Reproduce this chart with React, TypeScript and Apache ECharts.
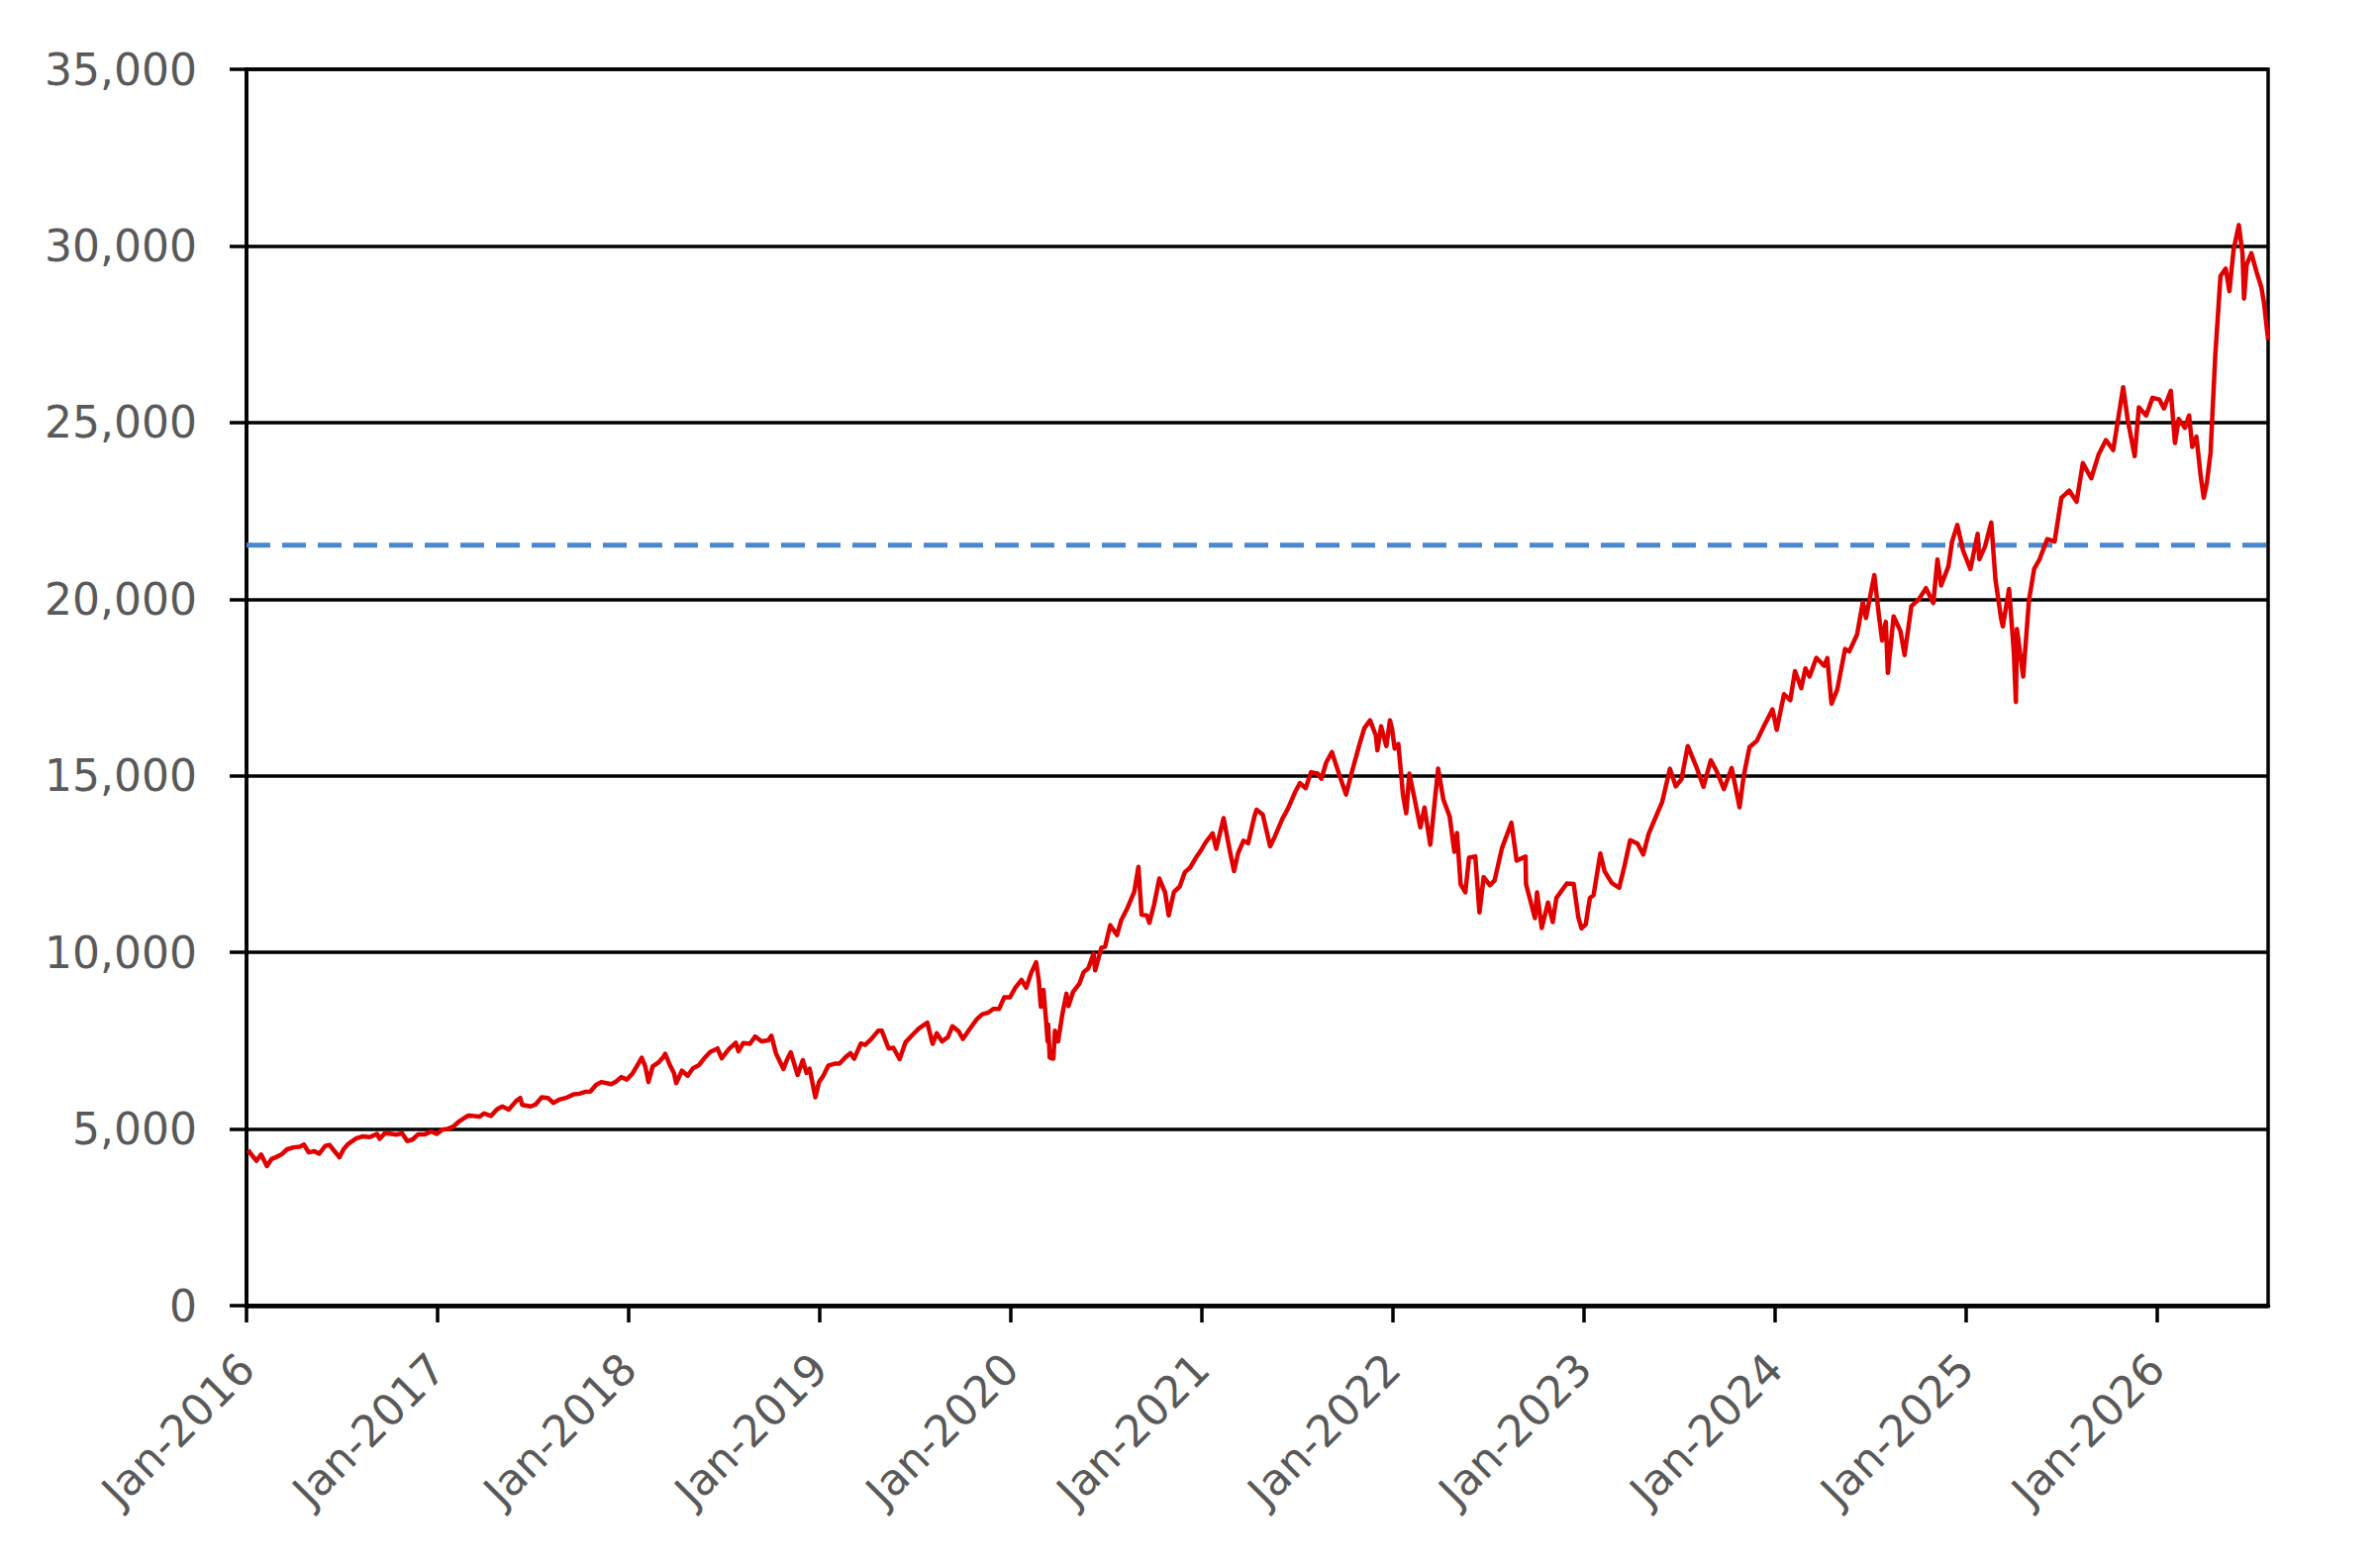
import React, { useEffect, useRef } from "react";
import * as echarts from "echarts";

// ---- Data (index level) ----
const d2016: [string, number][] = [
  ["01-04", 4400], ["01-12", 4250], ["01-20", 4100], ["01-29", 4280], ["02-09", 3950], ["02-18", 4150],
  ["02-26", 4200], ["03-08", 4280], ["03-18", 4420], ["03-31", 4480], ["04-12", 4500], ["04-20", 4560],
  ["04-29", 4340], ["05-10", 4370], ["05-19", 4300], ["05-31", 4520], ["06-08", 4550], ["06-15", 4420],
  ["06-27", 4200], ["07-05", 4430], ["07-14", 4580], ["07-29", 4730], ["08-10", 4790], ["08-24", 4770],
  ["09-07", 4860], ["09-12", 4720], ["09-22", 4880], ["10-05", 4860], ["10-14", 4840], ["10-25", 4880],
  ["11-04", 4660], ["11-14", 4700], ["11-25", 4850], ["12-08", 4850], ["12-20", 4930], ["12-30", 4860],
];
const d2017: [string, number][] = [
  ["01-10", 4980], ["01-20", 5000], ["01-31", 5070], ["02-10", 5200], ["02-21", 5310], ["03-01", 5380],
  ["03-10", 5370], ["03-22", 5350], ["03-31", 5440], ["04-13", 5370], ["04-25", 5560], ["05-05", 5640],
  ["05-17", 5550], ["05-31", 5790], ["06-08", 5880], ["06-12", 5680], ["06-28", 5640], ["07-07", 5690],
  ["07-19", 5900], ["07-31", 5880], ["08-10", 5740], ["08-23", 5840], ["09-05", 5890], ["09-18", 5980],
  ["09-29", 6000], ["10-10", 6050], ["10-20", 6060], ["10-31", 6250], ["11-10", 6330], ["11-29", 6270],
  ["12-08", 6340], ["12-18", 6470], ["12-29", 6400],
];
const d2018: [string, number][] = [
  ["01-09", 6580], ["01-19", 6830], ["01-26", 7020], ["02-02", 6770], ["02-08", 6330], ["02-16", 6770],
  ["02-27", 6880], ["03-09", 7050], ["03-12", 7130], ["03-22", 6780], ["03-29", 6580], ["04-02", 6300],
  ["04-13", 6650], ["04-24", 6510], ["05-04", 6720], ["05-15", 6800], ["05-25", 6990], ["06-06", 7180],
  ["06-20", 7280], ["06-28", 7000], ["07-12", 7270], ["07-25", 7440], ["07-30", 7200], ["08-08", 7430],
  ["08-21", 7410], ["08-31", 7620], ["09-12", 7480], ["09-25", 7510], ["10-01", 7640], ["10-10", 7130],
  ["10-24", 6700], ["10-31", 6970], ["11-07", 7170], ["11-20", 6530], ["11-30", 6950], ["12-07", 6590],
  ["12-13", 6710], ["12-24", 5900], ["12-31", 6330],
];
const d2019: [string, number][] = [
  ["01-08", 6500], ["01-18", 6800], ["01-30", 6850], ["02-08", 6850], ["02-21", 7050], ["03-01", 7150],
  ["03-08", 6990], ["03-21", 7420], ["03-29", 7380], ["04-10", 7550], ["04-23", 7780], ["04-30", 7780],
  ["05-13", 7280], ["05-22", 7300], ["06-03", 6980], ["06-14", 7450], ["06-28", 7670], ["07-10", 7850],
  ["07-26", 8010], ["08-05", 7410], ["08-13", 7710], ["08-23", 7480], ["09-03", 7600], ["09-12", 7910],
  ["09-24", 7760], ["10-02", 7550], ["10-14", 7810], ["10-28", 8100], ["11-08", 8250], ["11-20", 8300],
  ["11-29", 8400], ["12-10", 8400], ["12-20", 8730], ["12-31", 8730],
];
const d2020: [string, number][] = [
  ["01-10", 9000], ["01-22", 9220], ["01-31", 9000], ["02-10", 9440], ["02-19", 9720], ["02-24", 9220],
  ["02-28", 8460], ["03-04", 8940], ["03-09", 8080], ["03-12", 7480], ["03-13", 7960], ["03-16", 7020],
  ["03-20", 7000], ["03-23", 6990], ["03-26", 7780], ["04-01", 7480], ["04-09", 8230], ["04-17", 8830],
  ["04-21", 8480], ["04-30", 8890], ["05-12", 9120], ["05-20", 9440], ["05-29", 9550], ["06-08", 9960],
  ["06-11", 9490], ["06-23", 10130], ["06-30", 10160], ["07-10", 10770], ["07-23", 10490], ["07-31", 10910],
  ["08-12", 11260], ["08-25", 11720], ["09-02", 12420], ["09-08", 11070], ["09-18", 11050], ["09-23", 10840],
  ["10-02", 11350], ["10-12", 12090], ["10-23", 11700], ["10-30", 11050], ["11-09", 11710], ["11-20", 11860],
  ["11-30", 12270], ["12-10", 12400], ["12-22", 12700], ["12-31", 12890],
];
const d2021: [string, number][] = [
  ["01-08", 13100], ["01-22", 13370], ["01-29", 12930], ["02-12", 13800], ["02-25", 12800], ["03-04", 12300],
  ["03-12", 12820], ["03-22", 13160], ["03-31", 13090], ["04-12", 13850], ["04-16", 14040], ["04-28", 13900],
  ["05-12", 13000], ["05-21", 13280], ["06-04", 13770], ["06-15", 14070], ["06-29", 14550], ["07-08", 14790],
  ["07-19", 14650], ["07-29", 15100], ["08-11", 15060], ["08-18", 14920], ["08-27", 15370], ["09-07", 15670],
  ["09-20", 15080], ["10-04", 14470], ["10-14", 15040], ["10-29", 15850], ["11-08", 16350], ["11-19", 16570],
  ["11-30", 16140], ["12-03", 15720], ["12-10", 16400], ["12-20", 15840], ["12-27", 16570], ["12-31", 16320],
];
const d2022: [string, number][] = [
  ["01-05", 15770], ["01-12", 15900], ["01-21", 14440], ["01-27", 13940], ["02-02", 15060], ["02-10", 14490],
  ["02-23", 13540], ["03-03", 14100], ["03-14", 13050], ["03-29", 15200], ["04-08", 14330], ["04-20", 13850],
  ["04-29", 12850], ["05-04", 13380], ["05-11", 11930], ["05-20", 11700], ["05-27", 12680], ["06-08", 12720],
  ["06-16", 11130], ["06-24", 12130], ["07-06", 11900], ["07-15", 12040], ["07-29", 12950], ["08-16", 13670],
  ["08-26", 12600], ["09-12", 12710], ["09-13", 11930], ["09-30", 10970], ["10-04", 11700], ["10-13", 10690],
  ["10-25", 11410], ["11-03", 10860], ["11-10", 11540], ["11-30", 11950], ["12-13", 11940], ["12-22", 10990],
  ["12-28", 10680],
];
const d2023: [string, number][] = [
  ["01-05", 10790], ["01-13", 11540], ["01-20", 11620], ["02-02", 12800], ["02-10", 12300], ["02-24", 11960],
  ["03-10", 11830], ["03-20", 12440], ["03-31", 13180], ["04-14", 13080], ["04-25", 12770], ["05-05", 13340],
  ["05-19", 13840], ["05-31", 14250], ["06-15", 15200], ["06-26", 14700], ["07-07", 14900], ["07-19", 15840],
  ["08-04", 15270], ["08-18", 14690], ["09-01", 15440], ["09-12", 15140], ["09-26", 14620], ["10-11", 15220],
  ["10-26", 14110], ["11-03", 15000], ["11-14", 15810], ["11-28", 15990], ["12-12", 16420], ["12-28", 16880],
];
const d2024: [string, number][] = [
  ["01-05", 16300], ["01-19", 17310], ["01-31", 17140], ["02-09", 17960], ["02-21", 17480], ["02-29", 18040],
  ["03-08", 17810], ["03-21", 18340], ["04-05", 18110], ["04-11", 18330], ["04-19", 17040], ["04-30", 17440],
  ["05-15", 18590], ["05-23", 18520], ["06-07", 19000], ["06-18", 19910], ["06-24", 19470], ["07-10", 20680],
  ["07-19", 19520], ["07-25", 18830], ["08-01", 19360], ["08-05", 17910], ["08-16", 19510], ["08-29", 19100],
  ["09-06", 18420], ["09-19", 19800], ["10-03", 19990], ["10-17", 20310], ["10-31", 19890], ["11-08", 21120],
  ["11-15", 20390], ["11-29", 20930], ["12-06", 21630], ["12-16", 22100], ["12-27", 21380],
];
const d2025: [string, number][] = [
  ["01-10", 20850], ["01-24", 21850], ["01-27", 21130], ["02-07", 21490], ["02-19", 22170], ["02-27", 20550],
  ["03-10", 19430], ["03-13", 19230], ["03-25", 20290], ["04-03", 18520], ["04-07", 17090], ["04-09", 19150],
  ["04-21", 17810], ["05-02", 19970], ["05-12", 20860], ["05-22", 21120], ["06-06", 21700], ["06-20", 21630],
  ["07-03", 22870], ["07-18", 23070], ["08-01", 22760], ["08-13", 23850], ["08-29", 23420], ["09-12", 24090],
  ["09-26", 24500], ["10-10", 24220], ["10-29", 26000], ["11-07", 25050], ["11-20", 24050], ["11-28", 25430],
  ["12-12", 25200], ["12-24", 25700],
];
const d2026: [string, number][] = [
  ["01-06", 25650], ["01-15", 25400], ["01-28", 25900], ["02-05", 24420], ["02-12", 25100], ["02-24", 24850],
  ["03-04", 25200], ["03-10", 24310], ["03-18", 24600], ["03-26", 23500], ["04-01", 22870], ["04-07", 23300],
  ["04-14", 24150], ["04-23", 26900], ["05-03", 29150], ["05-13", 29360], ["05-20", 28720], ["05-28", 29890],
  ["06-07", 30590], ["06-14", 29790], ["06-17", 28510], ["06-22", 29470], ["07-01", 29790], ["07-11", 29260],
  ["07-20", 28830], ["07-25", 28400], ["08-02", 27340],
];
const yearBlocks: [number, [string, number][]][] = [
  [2016, d2016], [2017, d2017], [2018, d2018], [2019, d2019], [2020, d2020], [2021, d2021],
  [2022, d2022], [2023, d2023], [2024, d2024], [2025, d2025], [2026, d2026],
];
const referenceLevel = 21530;
const tickYears = [2016, 2017, 2018, 2019, 2020, 2021, 2022, 2023, 2024, 2025, 2026];
const yTicks = [0, 5000, 10000, 15000, 20000, 25000, 30000, 35000];
const axisEnd = "2026-08-02";

function toYear(s: string): number {
  const d = new Date(s + "T00:00:00Z");
  const y = d.getUTCFullYear();
  const a = Date.UTC(y, 0, 1);
  const b = Date.UTC(y + 1, 0, 1);
  return y + (d.getTime() - a) / (b - a);
}

export default function App() {
  const ref = useRef<HTMLDivElement>(null);
  useEffect(() => {
    document.body.style.margin = "0";
    if (!ref.current) return;
    const chart = echarts.init(ref.current, undefined, { renderer: "svg" });
    const xMax = toYear(axisEnd);
    const lineData = yearBlocks.flatMap(([y, arr]) =>
      arr.map(([md, v]) => [toYear(`${y}-${md}`), v])
    );
    const font = "DejaVu Sans";
    chart.setOption({
      animation: false,
      backgroundColor: "#ffffff",
      grid: {
        left: 249,
        right: 113,
        top: 70,
        bottom: 260,
        show: true,
        borderColor: "#000000",
        borderWidth: 3.5,
      },
      xAxis: {
        type: "value",
        min: 2016,
        max: xMax,
        axisLine: { show: true, onZero: false, lineStyle: { color: "#000000", width: 4.5 } },
        axisTick: {
          show: true,
          length: 17,
          customValues: tickYears,
          lineStyle: { color: "#000000", width: 3.5 },
        },
        axisLabel: {
          rotate: 45,
          margin: 56,
          customValues: tickYears,
          fontSize: 44,
          fontFamily: font,
          color: "#595959",
          formatter: (v: number) => "Jan-" + Math.round(v),
        },
        splitLine: { show: false },
      },
      yAxis: {
        type: "value",
        min: 0,
        max: 35000,
        interval: 5000,
        axisLine: { show: true, lineStyle: { color: "#000000", width: 3.5 } },
        axisTick: { show: true, length: 17, lineStyle: { color: "#000000", width: 3.5 } },
        axisLabel: {
          margin: 50,
          fontSize: 44,
          fontFamily: font,
          color: "#595959",
          formatter: (v: number) => (yTicks.includes(v) ? v.toLocaleString("en-US") : ""),
        },
        splitLine: { show: true, lineStyle: { color: "#000000", width: 3.5 } },
      },
      series: [
        {
          type: "line",
          data: [
            [2016, referenceLevel],
            [xMax, referenceLevel],
          ],
          symbol: "none",
          silent: true,
          lineStyle: { color: "#4a87cf", width: 5, type: [24, 12] },
          z: 3,
        },
        {
          type: "line",
          data: lineData,
          symbol: "none",
          silent: true,
          lineStyle: { color: "#e00000", width: 4.5, join: "round" },
          z: 4,
        },
      ],
    });
    return () => chart.dispose();
  }, []);
  return <div ref={ref} style={{ width: 2404, height: 1579 }} />;
}
